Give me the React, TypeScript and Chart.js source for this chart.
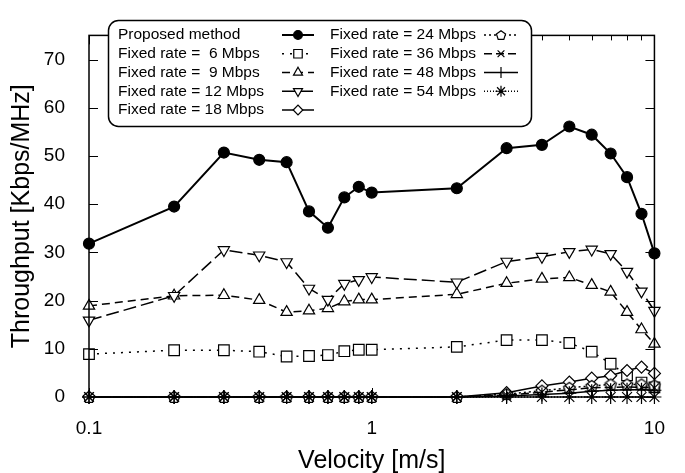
import React, { useEffect, useRef } from 'react';
import { Chart, registerables } from 'chart.js';
import { drawPoint } from 'chart.js/helpers';

Chart.register(...registerables);

const velocity = [0.1, 0.2, 0.3, 0.4, 0.5, 0.6, 0.7, 0.8, 0.9, 1, 2, 3, 4, 5, 6, 7, 8, 9, 10];
const proposed = [31.8, 39.5, 50.7, 49.2, 48.7, 38.5, 35.1, 41.4, 43.6, 42.4, 43.3, 51.6, 52.3, 56.1, 54.4, 50.5, 45.6, 38.0, 29.8];
const fixed6 = [8.9, 9.7, 9.7, 9.4, 8.4, 8.5, 8.7, 9.5, 9.8, 9.8, 10.4, 11.8, 11.8, 11.2, 9.4, 6.9, 4.5, 3.0, 2.0];
const fixed9 = [18.9, 21.0, 21.1, 20.1, 17.6, 17.9, 18.4, 19.8, 20.2, 20.2, 21.3, 23.6, 24.5, 24.8, 23.2, 21.8, 17.6, 14.0, 11.0];
const fixed12 = [15.9, 21.0, 30.5, 29.4, 28.0, 22.5, 20.2, 23.5, 24.3, 24.9, 23.8, 28.1, 29.1, 30.1, 30.6, 29.7, 26.0, 21.9, 17.9];
const fixed18 = [0, 0, 0, 0, 0, 0, 0, 0, 0, 0, 0, 0.9, 2.3, 3.1, 3.9, 4.4, 5.5, 6.2, 4.9];
const fixed24 = [0, 0, 0, 0, 0, 0, 0, 0, 0, 0, 0, 0.6, 1.3, 1.9, 2.3, 2.6, 2.6, 2.6, 2.4];
const fixed36 = [0, 0, 0, 0, 0, 0, 0, 0, 0, 0, 0, 0.4, 1.0, 1.5, 1.9, 2.0, 2.1, 2.0, 1.9];
const fixed48 = [0, 0, 0, 0, 0, 0, 0, 0, 0, 0, 0, 0.2, 0.5, 0.8, 1.2, 1.4, 1.5, 1.5, 1.4];
const fixed54 = [0, 0, 0, 0, 0, 0, 0, 0, 0, 0, 0, 0, 0, 0, 0, 0, 0, 0, 0];

const labels = [
  'Proposed method',
  'Fixed rate =  6 Mbps',
  'Fixed rate =  9 Mbps',
  'Fixed rate = 12 Mbps',
  'Fixed rate = 18 Mbps',
  'Fixed rate = 24 Mbps',
  'Fixed rate = 36 Mbps',
  'Fixed rate = 48 Mbps',
  'Fixed rate = 54 Mbps',
];

const xTickLabels = [0.1, 1, 10];
const xMinorTicks = [0.1, 0.2, 0.3, 0.4, 0.5, 0.6, 0.7, 0.8, 0.9, 1, 2, 3, 4, 5, 6, 7, 8, 9, 10];
const yTickValues = [0, 10, 20, 30, 40, 50, 60, 70];

const FONT = "'Liberation Sans', Arial, Helvetica, sans-serif";

function makePentagon(scale: number): HTMLCanvasElement {
  const c = document.createElement('canvas');
  c.width = 16;
  c.height = 16;
  const g = c.getContext('2d')!;
  g.beginPath();
  for (let i = 0; i < 5; i++) {
    const a = -Math.PI / 2 + (i * 2 * Math.PI) / 5;
    const px = 8 + 6 * scale * Math.cos(a);
    const py = 8.5 + 6 * scale * Math.sin(a);
    if (i === 0) g.moveTo(px, py);
    else g.lineTo(px, py);
  }
  g.closePath();
  g.fillStyle = '#fff';
  g.fill();
  g.lineWidth = 1.2;
  g.strokeStyle = '#000';
  g.stroke();
  return c;
}

function toPoints(vals: number[]) {
  return velocity.map((v, i) => ({ x: v, y: vals[i] }));
}

const framePlugin = {
  id: 'frameTicksLegend',
  afterDraw(chart: any) {
    const { ctx, chartArea, scales } = chart;
    const { left, right, top, bottom } = chartArea;
    ctx.save();
    ctx.strokeStyle = '#000';
    ctx.lineWidth = 1.5;
    ctx.strokeRect(left, top, right - left, bottom - top);
    ctx.lineWidth = 1;
    ctx.beginPath();
    for (const v of xMinorTicks) {
      const px = Math.round(scales.x.getPixelForValue(v)) + 0.5;
      const len = xTickLabels.includes(v) ? 9 : 5;
      ctx.moveTo(px, bottom);
      ctx.lineTo(px, bottom - len);
      ctx.moveTo(px, top);
      ctx.lineTo(px, top + len);
    }
    for (const v of yTickValues) {
      const py = Math.round(scales.y.getPixelForValue(v)) + 0.5;
      ctx.moveTo(left, py);
      ctx.lineTo(left + 9, py);
      ctx.moveTo(right, py);
      ctx.lineTo(right - 9, py);
    }
    ctx.stroke();

    // legend box
    const bx = 108.5, by = 20.5, bw = 423, bh = 106, r = 10;
    ctx.beginPath();
    ctx.moveTo(bx + r, by);
    ctx.lineTo(bx + bw - r, by);
    ctx.arcTo(bx + bw, by, bx + bw, by + r, r);
    ctx.lineTo(bx + bw, by + bh - r);
    ctx.arcTo(bx + bw, by + bh, bx + bw - r, by + bh, r);
    ctx.lineTo(bx + r, by + bh);
    ctx.arcTo(bx, by + bh, bx, by + bh - r, r);
    ctx.lineTo(bx, by + r);
    ctx.arcTo(bx, by, bx + r, by, r);
    ctx.closePath();
    ctx.fillStyle = '#fff';
    ctx.fill();
    ctx.lineWidth = 1.5;
    ctx.stroke();

    ctx.font = `15.5px ${FONT}`;
    ctx.textBaseline = 'middle';
    ctx.textAlign = 'left';
    const datasets = chart.data.datasets;
    const smallPent = makePentagon(0.8);
    datasets.forEach((ds: any, i: number) => {
      const col = i < 5 ? 0 : 1;
      const row = i < 5 ? i : i - 5;
      const ty = 35 + row * 18.75;
      const tx = col === 0 ? 118 : 330;
      const sx0 = col === 0 ? 282 : 484;
      const sx1 = col === 0 ? 314 : 518;
      ctx.fillStyle = '#000';
      ctx.fillText(ds.label, tx, ty);
      ctx.save();
      ctx.lineWidth = ds.borderWidth;
      ctx.setLineDash(ds.borderDash || []);
      ctx.beginPath();
      ctx.moveTo(sx0, ty);
      ctx.lineTo(sx1, ty);
      ctx.stroke();
      ctx.restore();
      ctx.save();
      ctx.fillStyle = ds.pointBackgroundColor;
      ctx.strokeStyle = '#000';
      ctx.lineWidth = ds.pointBorderWidth;
      const style = typeof ds.pointStyle === 'string' ? ds.pointStyle : smallPent;
      drawPoint(ctx, {
        pointStyle: style,
        rotation: ds.pointRotation || 0,
        radius: ds.pointRadius * 0.8,
        borderWidth: ds.pointBorderWidth,
      } as any, (sx0 + sx1) / 2, ty);
      ctx.restore();
    });
    ctx.restore();
  },
};

export default function App() {
  const ref = useRef<HTMLCanvasElement | null>(null);
  useEffect(() => {
    document.body.style.margin = '0';
    const canvas = ref.current!;
    const pentagon = makePentagon(1);
    const base = {
      borderColor: '#000',
      pointBorderColor: '#000',
      pointBorderWidth: 1.2,
      pointBackgroundColor: '#fff',
      borderWidth: 1.5,
      pointRotation: 0,
      tension: 0,
      clip: false as any,
    };
    const datasets: any[] = [
      { ...base, label: labels[0], data: toPoints(proposed), borderWidth: 2, borderDash: [], pointStyle: 'circle', pointRadius: 5.5, pointBackgroundColor: '#000' },
      { ...base, label: labels[1], data: toPoints(fixed6), borderDash: [2, 6], pointStyle: 'rect', pointRadius: 7.5 },
      { ...base, label: labels[2], data: toPoints(fixed9), borderDash: [8, 5], pointStyle: 'triangle', pointRadius: 6.5 },
      { ...base, label: labels[3], data: toPoints(fixed12), borderDash: [13, 5], pointStyle: 'triangle', pointRotation: 180, pointRadius: 6.5 },
      { ...base, label: labels[4], data: toPoints(fixed18), borderDash: [], pointStyle: 'rectRot', pointRadius: 6 },
      { ...base, label: labels[5], data: toPoints(fixed24), borderDash: [2, 3], pointStyle: pentagon, pointRadius: 6 },
      { ...base, label: labels[6], data: toPoints(fixed36), borderDash: [8, 4], pointStyle: 'crossRot', pointRadius: 6 },
      { ...base, label: labels[7], data: toPoints(fixed48), borderDash: [], pointStyle: 'cross', pointRadius: 7 },
      { ...base, label: labels[8], data: toPoints(fixed54), borderDash: [1, 2], pointStyle: 'star', pointRadius: 7 },
    ].map((d, i, arr) => ({ ...d, order: arr.length - 1 - i }));
    const chart = new Chart(canvas, {
      type: 'line',
      data: { datasets },
      options: {
        responsive: false,
        animation: false,
        layout: { padding: { top: 13, right: 17, left: 0, bottom: 0 } },
        plugins: { legend: { display: false }, tooltip: { enabled: false } },
        scales: {
          x: {
            type: 'logarithmic',
            min: 0.1,
            max: 10,
            grid: { display: false, drawTicks: false },
            border: { display: false },
            afterBuildTicks: (s: any) => {
              s.ticks = xTickLabels.map((v) => ({ value: v }));
            },
            afterFit: (s: any) => {
              s.height = 76;
            },
            ticks: {
              color: '#000',
              padding: 20,
              maxRotation: 0,
              autoSkip: false,
              font: { family: FONT, size: 19 },
              callback: (v: any) => String(v),
            },
            title: {
              display: true,
              text: 'Velocity [m/s]',
              color: '#000',
              font: { family: FONT, size: 25, lineHeight: 1 },
              padding: { top: 0, bottom: -1 },
            },
          },
          y: {
            type: 'linear',
            min: 0,
            max: 75,
            grid: { display: false, drawTicks: false },
            border: { display: false },
            afterBuildTicks: (s: any) => {
              s.ticks = yTickValues.map((v) => ({ value: v }));
            },
            afterFit: (s: any) => {
              s.width = 89;
            },
            ticks: {
              color: '#000',
              padding: 24,
              autoSkip: false,
              font: { family: FONT, size: 19 },
              callback: (v: any) => String(v),
            },
            title: {
              display: true,
              text: 'Throughput [Kbps/MHz]',
              color: '#000',
              font: { family: FONT, size: 25, lineHeight: 1 },
              padding: { top: 10, bottom: 0 },
            },
          },
        },
      },
      plugins: [framePlugin],
    });
    return () => chart.destroy();
  }, []);
  return <canvas ref={ref} width={685} height={473} style={{ display: 'block' }} />;
}
